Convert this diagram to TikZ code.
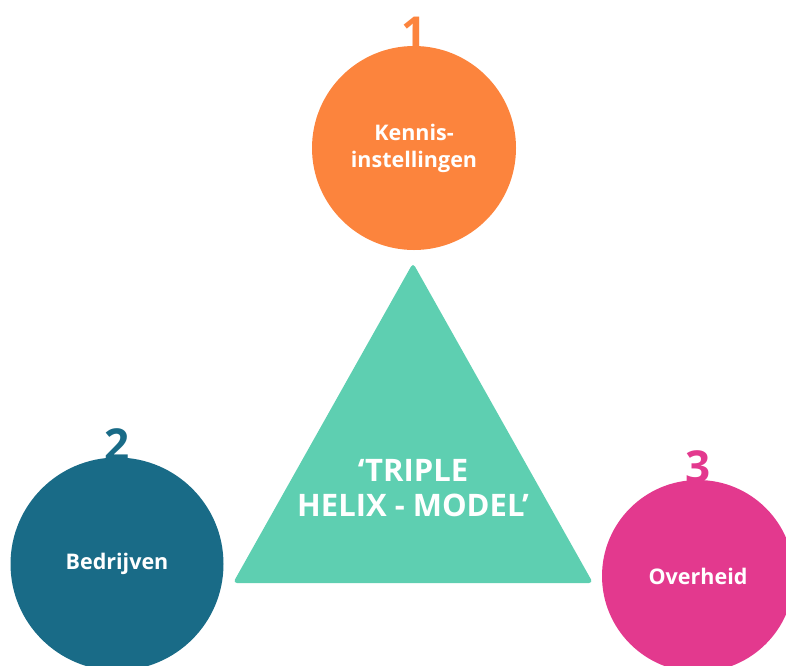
\documentclass[tikz,border=0pt]{standalone}
\usepackage{fontspec}
\setmainfont{Open Sans}
\definecolor{kennis}{HTML}{FC843D}
\definecolor{bedrijf}{HTML}{196B87}
\definecolor{overheid}{HTML}{E3398E}
\definecolor{helix}{HTML}{5ECFB1}
\tikzset{
  partner/.style={circle, fill=#1, text=white, align=center,
    font=\bfseries\fontsize{21.5}{27}\selectfont},
  nummer/.style={text=#1, inner sep=0pt, anchor=base,
    font=\bfseries\fontsize{44}{44}\selectfont}
}

\begin{document}
\begin{tikzpicture}[x=1pt,y=-1pt]
    \clip (0,0) rectangle (786,665);
    \fill[helix, rounded corners=4pt] (413,263) -- (593,583) -- (233,583) -- cycle;
    \node[text=white, align=center, font=\bfseries\fontsize{31}{35}\selectfont] (model) at (413,488) {‘TRIPLE\\HELIX - MODEL’};
    \node[partner=kennis, minimum size=204pt] (K) at (414,148) {Kennis-\\instellingen};
    \node[partner=bedrijf, minimum size=213pt] (B) at (117,564) {Bedrijven};
    \node[partner=overheid, minimum size=192pt] (O) at (698,576) {Overheid};
    \node[nummer=kennis] (n1) at ([yshift=-3pt]K.north) {1};
    \node[nummer=bedrijf] (n2) at ([yshift=-3pt]B.north) {2};
    \node[nummer=overheid] (n3) at ([yshift=-3pt]O.north) {3};
\end{tikzpicture}
\end{document}
